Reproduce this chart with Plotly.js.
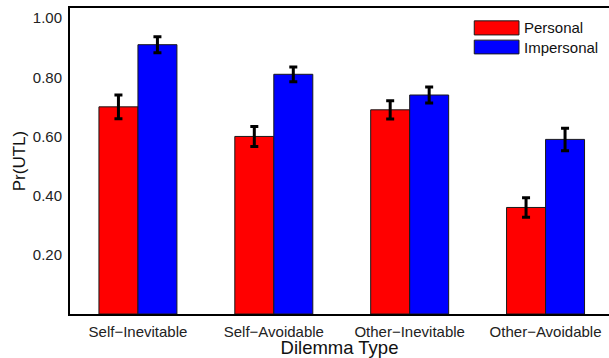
<!DOCTYPE html>
<html>
<head>
<meta charset="utf-8">
<script src="https://cdn.plot.ly/plotly-3.0.1.min.js"></script>
<style>html,body{margin:0;padding:0;background:#fff;}#chart{width:609px;height:358px;}</style>
</head>
<body>
<div id="chart"></div>
<script>
var categories = ["Self\u2212Inevitable", "Self\u2212Avoidable", "Other\u2212Inevitable", "Other\u2212Avoidable"];
var seriesNames = ["Personal", "Impersonal"];
var seriesColors = ["#FF0000", "#0000FF"];
var personalValues = [0.70, 0.60, 0.69, 0.36];
var personalErrors = [0.040, 0.034, 0.031, 0.033];
var impersonalValues = [0.91, 0.81, 0.74, 0.59];
var impersonalErrors = [0.027, 0.025, 0.027, 0.038];
var yTickValues = [0.2, 0.4, 0.6, 0.8, 1.0];
var yTickLabels = ["0.20", "0.40", "0.60", "0.80", "1.00"];

var FONT = "Liberation Sans, Arial, Helvetica, sans-serif";

function barTrace(name, vals, errs, color) {
  return {
    type: "bar", name: name, x: categories, y: vals,
    marker: {color: color, line: {color: "#1a1a1a", width: 1}},
    error_y: {type: "data", array: errs, visible: true, color: "#000", thickness: 3, width: 4},
    showlegend: false, hoverinfo: "skip"
  };
}

var data = [
  barTrace(seriesNames[0], personalValues, personalErrors, seriesColors[0]),
  barTrace(seriesNames[1], impersonalValues, impersonalErrors, seriesColors[1])
];

// custom legend built from series names/colors
var shapes = [];
var annotations = [];
var legY = [[0.912, 0.958], [0.850, 0.895]];
for (var i = 0; i < seriesNames.length; i++) {
  shapes.push({type: "rect", xref: "paper", yref: "paper", x0: 0.750, x1: 0.833,
    y0: legY[i][0], y1: legY[i][1], fillcolor: seriesColors[i], line: {color: "#1a1a1a", width: 1}});
  annotations.push({xref: "paper", yref: "paper", x: 0.838, y: (legY[i][0] + legY[i][1]) / 2,
    xanchor: "left", yanchor: "middle", showarrow: false, text: seriesNames[i],
    font: {family: FONT, size: 15, color: "#111"}});
}

var layout = {
  width: 609, height: 358,
  margin: {l: 70, r: 0, t: 8, b: 44, pad: 0},
  paper_bgcolor: "#fff", plot_bgcolor: "#fff",
  barmode: "group", bargap: 0.426, bargroupgap: 0,
  font: {family: FONT, color: "#000"},
  xaxis: {
    type: "category", range: [-0.5, 3.467],
    showline: true, mirror: true, linecolor: "#000", linewidth: 2,
    showgrid: false, zeroline: false, ticks: "",
    tickfont: {family: FONT, size: 15, color: "#222"},
    ticklabelstandoff: 3,
    title: {text: "Dilemma Type", font: {family: FONT, size: 18.5, color: "#111"}, standoff: 1}
  },
  yaxis: {
    range: [0, 1.034],
    showline: true, linecolor: "#000", linewidth: 2,
    showgrid: false, zeroline: false, ticks: "",
    tickvals: yTickValues, ticktext: yTickLabels,
    tickfont: {family: FONT, size: 15, color: "#222"},
    ticklabelstandoff: 3,
    title: {text: "Pr(UTL)", font: {family: FONT, size: 17, color: "#111"}, standoff: 3}
  },
  shapes: shapes,
  annotations: annotations
};

Plotly.newPlot("chart", data, layout, {displayModeBar: false, staticPlot: true});
</script>
</body>
</html>
